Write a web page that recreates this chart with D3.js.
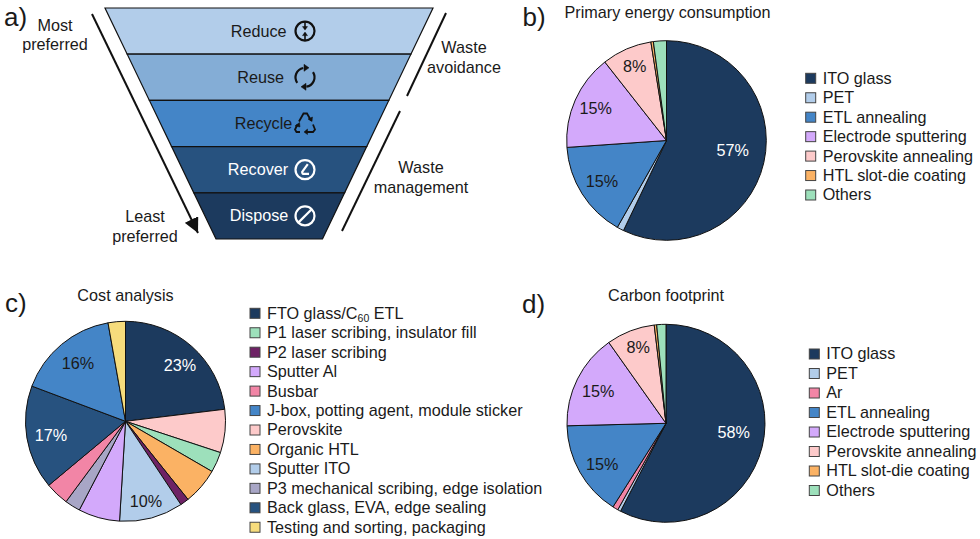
<!DOCTYPE html>
<html>
<head>
<meta charset="utf-8">
<script src="https://cdn.jsdelivr.net/npm/d3@7"></script>
<style>
  html, body { margin: 0; padding: 0; background: #fff; }
  svg { display: block; }
  text { font-family: "Liberation Sans", Arial, sans-serif; fill: #1a1a1a; }
</style>
</head>
<body>
<svg id="chart" width="980" height="539"></svg>
<script>
// Colours shared by the pies
const colors = {
  ito: "#1c3a5e", back: "#27527f", etl: "#4485c7", pet: "#b2cdea",
  electrode: "#d3a9fb", perovskite: "#fdcaca", htl: "#fbb264", others: "#9de0bb",
  p2: "#6e2265", busbar: "#f285a6", p3: "#a8a6c6", testing: "#f6dc7c"
};
const fontSize = 16.2;

// a) waste hierarchy
const tiers = ["Reduce", "Reuse", "Recycle", "Recover", "Dispose"];
const tierColors = ["#b2cdea", "#84add6", "#4485c7", "#27527f", "#1c3a5e"];
const tierText = ["#1a1a1a", "#1a1a1a", "#1a1a1a", "#fff", "#fff"];

// b) primary energy consumption
const energyNames = ["ITO glass", "PET", "ETL annealing", "Electrode sputtering", "Perovskite annealing", "HTL slot-die coating", "Others"];
const energyValues = [57.1, 1.1, 15.7, 15.5, 8.1, 0.4, 2.1];
const energyLabels = ["57%", "", "15%", "15%", "8%", "", ""];
const energyColors = [colors.ito, colors.pet, colors.etl, colors.electrode, colors.perovskite, colors.htl, colors.others];

// c) cost analysis, in clockwise pie order
const costNames = ["FTO glass/C60 ETL", "Perovskite", "P1 laser scribing, insulator fill", "Organic HTL", "P2 laser scribing", "Sputter ITO", "Sputter Al", "P3 mechanical scribing, edge isolation", "Busbar", "Back glass, EVA, edge sealing", "J-box, potting agent, module sticker", "Testing and sorting, packaging"];
const costValues = [23.1, 7, 3.3, 5.9, 1.4, 10.3, 6.7, 2.5, 3.8, 16.8, 16.5, 2.8];
const costLabels = ["23%", "", "", "", "", "10%", "", "", "", "17%", "16%", ""];
const costColors = [colors.ito, colors.perovskite, colors.others, colors.htl, colors.p2, colors.pet, colors.electrode, colors.p3, colors.busbar, colors.back, colors.etl, colors.testing];
// legend has its own order
const costLegend = ["FTO glass/C60 ETL", "P1 laser scribing, insulator fill", "P2 laser scribing", "Sputter Al", "Busbar", "J-box, potting agent, module sticker", "Perovskite", "Organic HTL", "Sputter ITO", "P3 mechanical scribing, edge isolation", "Back glass, EVA, edge sealing", "Testing and sorting, packaging"];

// d) carbon footprint
const carbonNames = ["ITO glass", "PET", "Ar", "ETL annealing", "Electrode sputtering", "Perovskite annealing", "HTL slot-die coating", "Others"];
const carbonValues = [57.6, 0.5, 0.9, 15.6, 15.6, 7.9, 0.4, 1.5];
const carbonLabels = ["58%", "", "", "15%", "15%", "8%", "", ""];
const carbonColors = [colors.ito, colors.pet, colors.busbar, colors.etl, colors.electrode, colors.perovskite, colors.htl, colors.others];

const svg = d3.select("#chart");

function addText(parent, x, y, str, size, anchor, fill) {
  return parent.append("text")
    .attr("x", x)
    .attr("y", y)
    .attr("font-size", size)
    .attr("text-anchor", anchor || "start")
    .style("fill", fill || "#1a1a1a")
    .text(str);
}

// Panel letters
[["a)", 4, 26], ["b)", 522.5, 26], ["c)", 5, 312], ["d)", 522, 313]].forEach(d => {
  addText(svg, d[1], d[2], d[0], 26);
});

////////////////////////////////////////////////////////////////////////////////
// a) funnel
////////////////////////////////////////////////////////////////////////////////
const rowY = d3.scaleBand().domain(tiers).range([8, 239]);
const edgeLeft = d3.scaleLinear().domain([8, 239]).range([105, 216]);
const edgeRight = d3.scaleLinear().domain([8, 239]).range([433, 322.5]);

const funnel = svg.append("g");
funnel.selectAll("path")
  .data(tiers)
  .join("path")
  .attr("d", d => {
    const y0 = rowY(d), y1 = y0 + rowY.bandwidth();
    return `M${edgeLeft(y0)},${y0}L${edgeRight(y0)},${y0}L${edgeRight(y1)},${y1}L${edgeLeft(y1)},${y1}Z`;
  })
  .attr("fill", (d, i) => tierColors[i])
  .attr("stroke", "#111")
  .attr("stroke-width", 1.2);

const tierLabelX = [258.7, 260.7, 263.5, 258, 259];
tiers.forEach((t, i) => {
  addText(funnel, tierLabelX[i], rowY(t) + rowY.bandwidth() / 2 + 5.5, t, fontSize, "middle", tierText[i]);
});

// Small pictograms next to the tier names
function icon(i, draw) {
  const t = tiers[i];
  const g = funnel.append("g")
    .attr("transform", `translate(305,${rowY(t) + rowY.bandwidth() / 2})`)
    .attr("fill", "none")
    .attr("stroke", tierText[i] === "#fff" ? "#fff" : "#111")
    .attr("stroke-width", 2);
  draw(g, tierText[i] === "#fff" ? "#fff" : "#111");
}
icon(0, (g, c) => {
  g.attr("stroke-width", 2.2);
  g.append("circle").attr("r", 9.5);
  g.append("path").attr("d", "M0,-9V-2M0,2V9").attr("stroke-width", 1.6);
  g.append("path").attr("d", "M-2.5,-4.5L0,-1L2.5,-4.5ZM-2.5,4.5L0,1L2.5,4.5Z").attr("fill", c).attr("stroke-width", 0.5);
});
icon(1, (g, c) => {
  const ring = d3.arc().innerRadius(9.5).outerRadius(9.5);
  g.attr("stroke-width", 2.2);
  g.append("path").attr("d", ring({ startAngle: 1.0, endAngle: 3.0 }));
  g.append("path").attr("d", ring({ startAngle: 4.1, endAngle: 6.1 }));
  g.append("path").attr("d", "M-1,-13L-1,-6L4,-9.5Z M1,13L1,6L-4,9.5Z").attr("fill", c).attr("stroke-width", 0.5);
});
icon(2, (g, c) => {
  g.attr("stroke-width", 1.8);
  g.append("path").attr("d", "M-6,-2L-1.5,-10H2L6,-3");
  g.append("path").attr("d", "M3,-4.5L7,-2L7.5,-6.5Z").attr("fill", c).attr("stroke-width", 0.5);
  g.append("path").attr("d", "M8,1L10,6L8,8.5H2");
  g.append("path").attr("d", "M2.5,5.5V11L-1,8.5Z").attr("fill", c).attr("stroke-width", 0.5);
  g.append("path").attr("d", "M-5,8.5H-8.5L-10,6L-7.5,1");
  g.append("path").attr("d", "M-10,2.5L-5.5,-1L-5,3.5Z").attr("fill", c).attr("stroke-width", 0.5);
});
icon(3, (g) => {
  g.attr("stroke-width", 2.2);
  g.append("circle").attr("r", 9.5);
  g.append("path").attr("d", "M2.8,-5.5L-2.8,2.2Q-3,4.2,-1,4.2H4");
});
icon(4, (g) => {
  g.attr("stroke-width", 2.2);
  g.append("circle").attr("r", 9.5);
  g.append("path").attr("d", "M-6.7,6.7L6.7,-6.7");
});

// Side lines and captions
svg.append("defs").append("marker")
  .attr("id", "arrowhead")
  .attr("viewBox", "0 0 10 10")
  .attr("refX", 10)
  .attr("refY", 5)
  .attr("markerUnits", "userSpaceOnUse")
  .attr("markerWidth", 15)
  .attr("markerHeight", 15)
  .attr("orient", "auto")
  .append("path")
  .attr("d", "M0,0L10,5L0,10Z")
  .attr("fill", "#111");

const sideLines = [[92, 14, 198, 233], [446, 13, 407, 96], [400, 111, 342, 231]];
svg.append("g").selectAll("line")
  .data(sideLines)
  .join("line")
  .attr("x1", d => d[0])
  .attr("y1", d => d[1])
  .attr("x2", d => d[2])
  .attr("y2", d => d[3])
  .attr("stroke", "#111")
  .attr("stroke-width", 2)
  .attr("marker-end", (d, i) => i === 0 ? "url(#arrowhead)" : null);

[["Most", 55, 31], ["preferred", 55, 50], ["Least", 145, 222], ["preferred", 145, 242],
 ["Waste", 464, 53], ["avoidance", 464, 73], ["Waste", 421, 173], ["management", 421, 193]].forEach(d => {
  addText(svg, d[1], d[2], d[0], fontSize, "middle");
});

////////////////////////////////////////////////////////////////////////////////
// Pies
////////////////////////////////////////////////////////////////////////////////
const pieLayout = d3.pie().sort(null).value(d => d);

function drawPie(opts) {
  const g = svg.append("g").attr("transform", `translate(${opts.cx},${opts.cy})`);
  const arc = d3.arc().innerRadius(0).outerRadius(opts.r);
  g.selectAll("path")
    .data(pieLayout(opts.values))
    .join("path")
    .attr("d", arc)
    .attr("fill", (d, i) => opts.colors[i])
    .attr("stroke", "#111")
    .attr("stroke-width", 1);

  opts.labels.forEach((lab, i) => {
    if (!lab) return;
    const pos = opts.labelAt[lab + i];
    const light = opts.colors[i] === colors.ito || opts.colors[i] === colors.back;
    addText(svg, pos[0], pos[1] + 5.7, lab, fontSize, "middle", light ? "#fff" : "#1a1a1a");
  });
  addText(svg, opts.titleX, opts.titleY, opts.title, fontSize, "middle");
}

function drawLegend(names, lookup, x, y0, step) {
  const y = d3.scaleLinear().domain([0, names.length - 1]).range([y0, y0 + step * (names.length - 1)]);
  const g = svg.append("g");
  names.forEach((name, i) => {
    g.append("rect")
      .attr("x", x)
      .attr("y", y(i) - 5)
      .attr("width", 10)
      .attr("height", 10)
      .attr("fill", lookup(name))
      .attr("stroke", "#444")
      .attr("stroke-width", 1);
    const t = g.append("text")
      .attr("x", x + 17)
      .attr("y", y(i) + 5.4)
      .attr("font-size", fontSize);
    if (name.includes("C60")) {
      t.append("tspan").text("FTO glass/C");
      t.append("tspan").attr("dy", 3).attr("font-size", 10.5).text("60");
      t.append("tspan").attr("dy", -3).text(" ETL");
    } else {
      t.text(name);
    }
  });
}

drawPie({
  cx: 666.5, cy: 140.5, r: 99.8,
  values: energyValues, colors: energyColors, labels: energyLabels,
  labelAt: { "57%0": [732.7, 150.7], "15%2": [602, 181.7], "15%3": [595.7, 108.7], "8%4": [634.7, 66] },
  title: "Primary energy consumption", titleX: 667.5, titleY: 18
});
drawLegend(energyNames, n => energyColors[energyNames.indexOf(n)], 805.7, 78.3, 19.45);

drawPie({
  cx: 125.5, cy: 421.3, r: 100,
  values: costValues, colors: costColors, labels: costLabels,
  labelAt: { "23%0": [180, 365.7], "10%5": [146, 501.3], "17%9": [51, 435.3], "16%10": [78, 363] },
  title: "Cost analysis", titleX: 125.5, titleY: 301
});
drawLegend(costLegend, n => costColors[costNames.indexOf(n)], 250, 313.3, 19.45);

drawPie({
  cx: 666, cy: 423.3, r: 99,
  values: carbonValues, colors: carbonColors, labels: carbonLabels,
  labelAt: { "58%0": [733.7, 432.7], "15%3": [602.3, 464.3], "15%4": [598.3, 391], "8%5": [638.3, 347.3] },
  title: "Carbon footprint", titleX: 666, titleY: 301
});
drawLegend(carbonNames, n => carbonColors[carbonNames.indexOf(n)], 809.3, 354, 19.5);
</script>
</body>
</html>
